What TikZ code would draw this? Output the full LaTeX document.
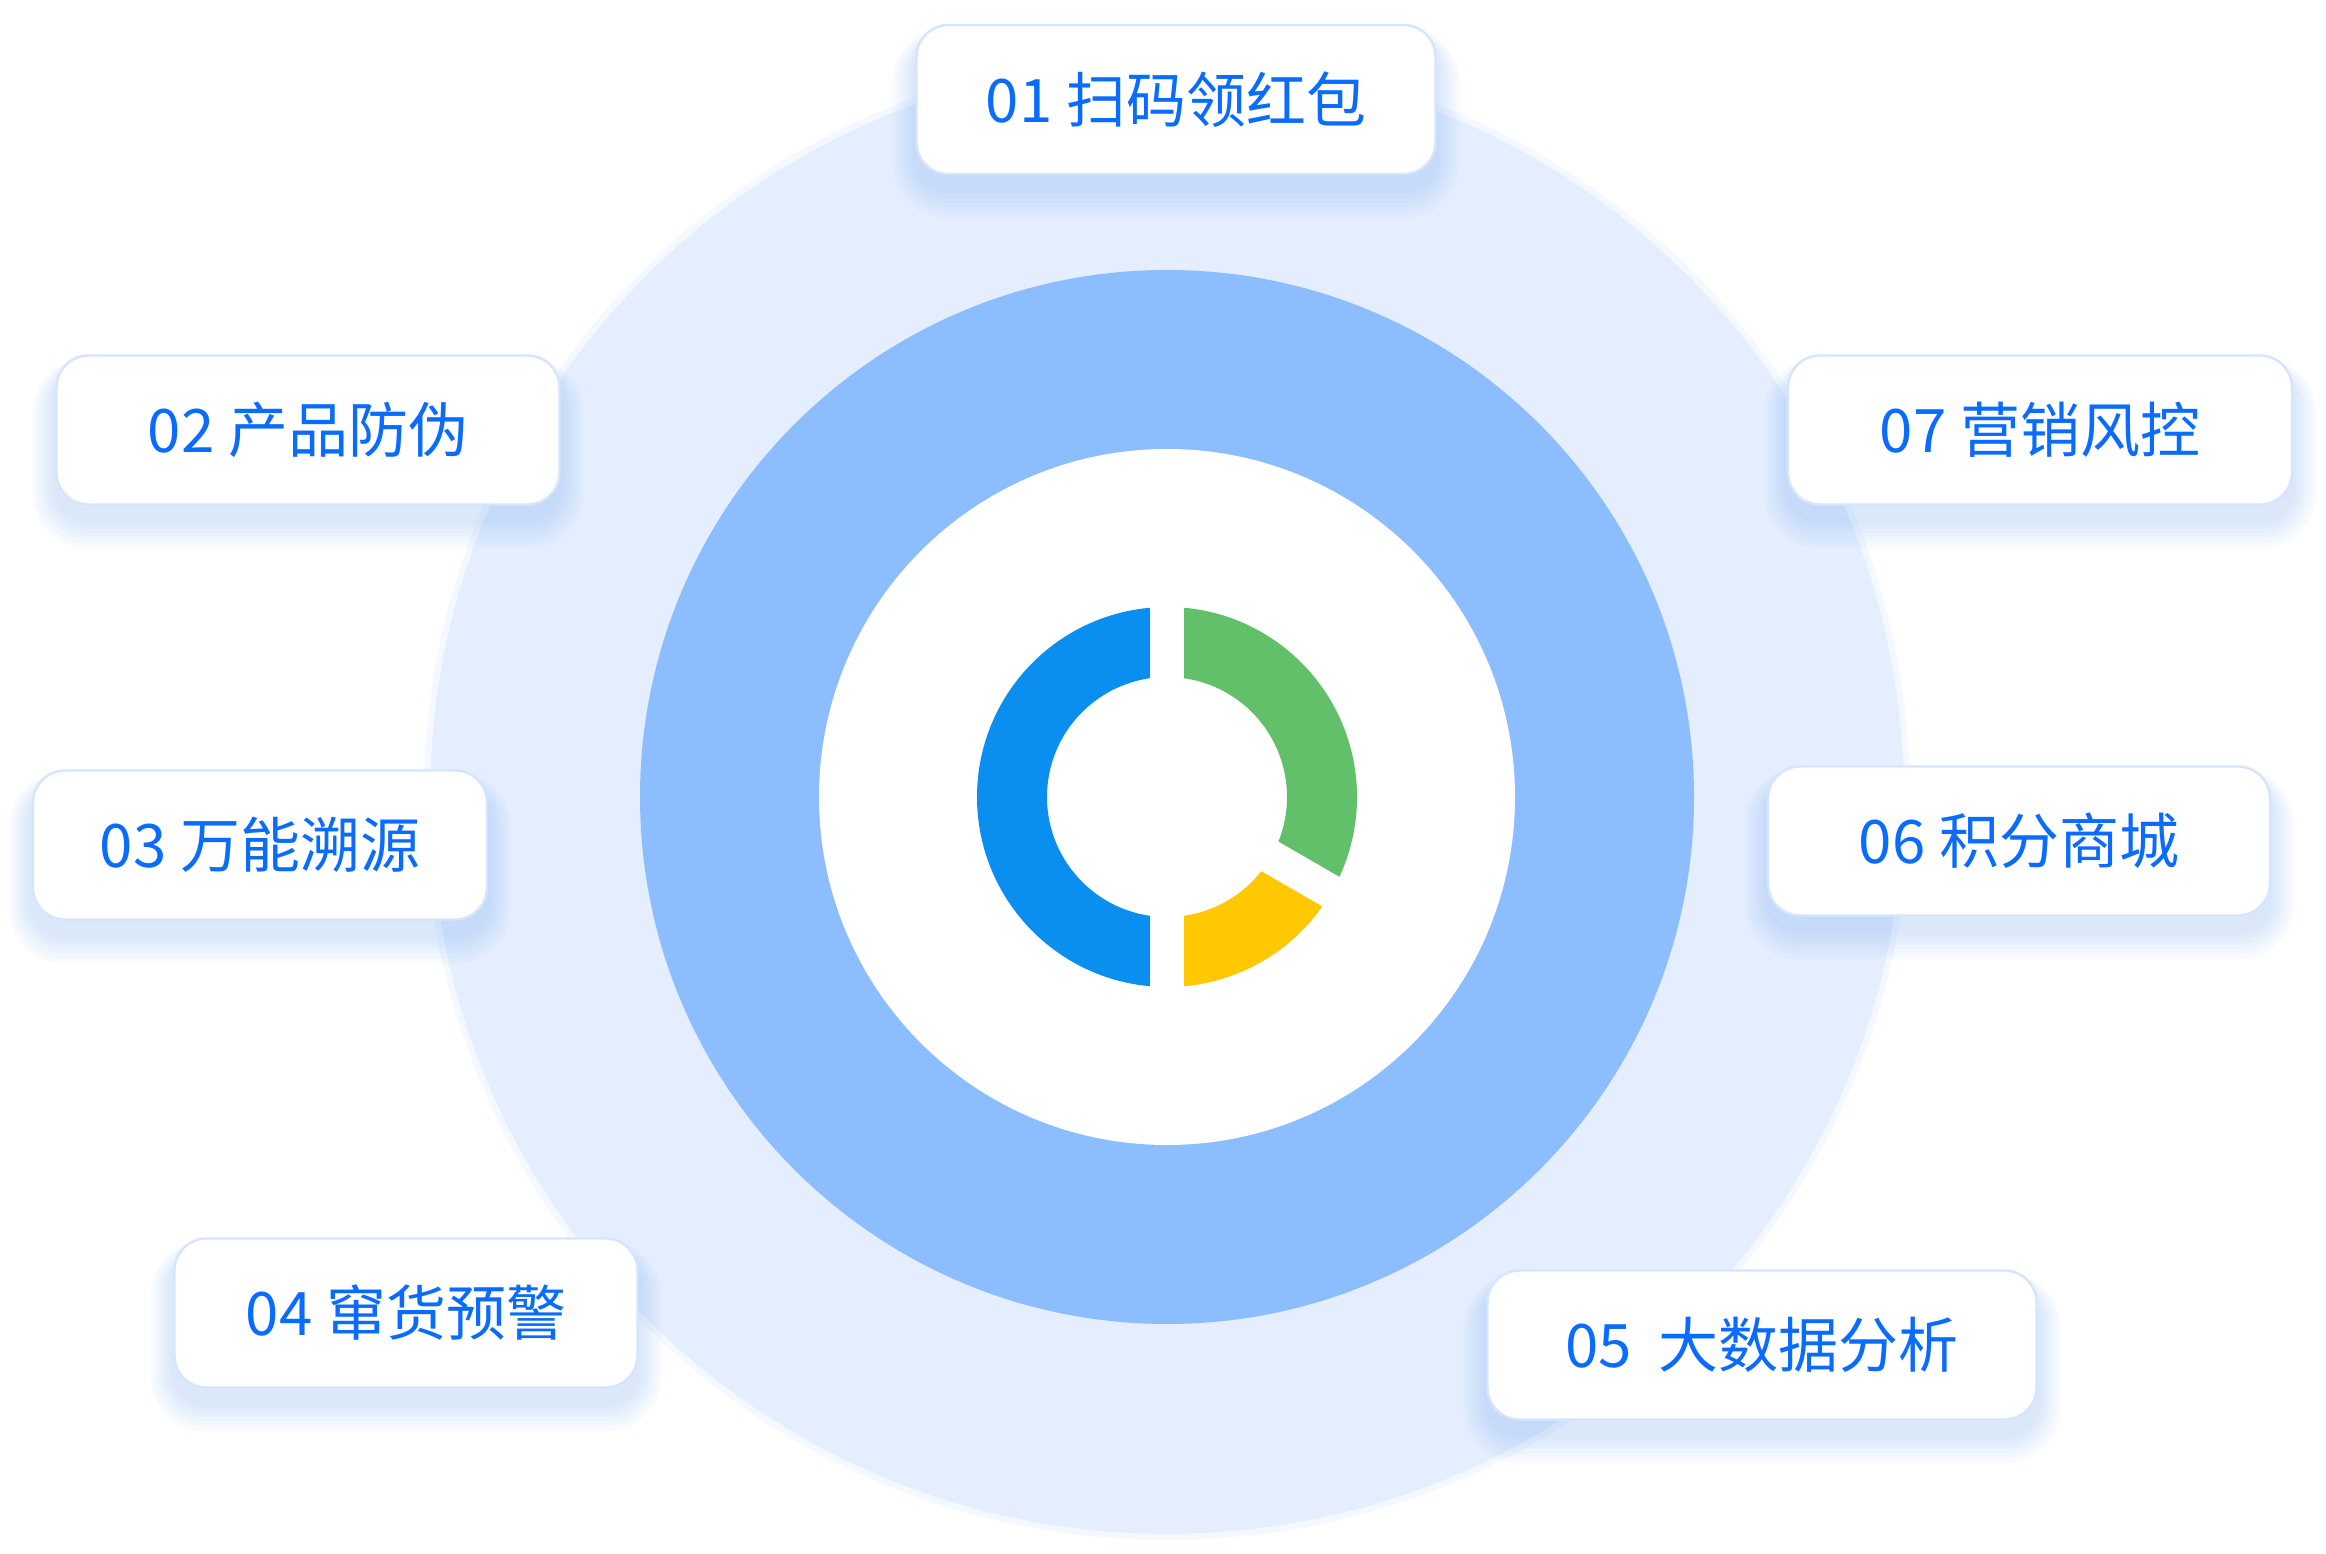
\documentclass[tikz,border=0pt]{standalone}
\usepackage{fontspec}
\setmainfont{Noto Sans CJK SC}
\usepackage{xcolor}
\usepackage{tikz}
\usetikzlibrary{calc,positioning}

\definecolor{outerblue}{HTML}{E4EEFE}
\definecolor{edgeblue}{HTML}{F4F8FF}
\definecolor{ringblue}{HTML}{8CBDFF}
\definecolor{segblue}{HTML}{0A8EF0}
\definecolor{seggreen}{HTML}{63C06A}
\definecolor{segyellow}{HTML}{FFC800}
\definecolor{labelblue}{HTML}{0A6CFF}
\definecolor{boxline}{HTML}{D6E5FD}
\definecolor{glowblue}{HTML}{7FB2FA}

\tikzset{
  labelbox/.style={draw=boxline, line width=1.2pt, fill=white, rounded corners=16pt,
    minimum height=74.5pt, text=labelblue, font=\fontsize{30}{36}\selectfont},
  glow/.style={fill=glowblue, fill opacity=0.05}
}

\begin{document}
\begin{tikzpicture}[x=0.5pt, y=0.5pt]
    \useasboundingbox (0,0) rectangle (2326,1554);
    \fill[white] (0,0) rectangle (2326,1554);
    \coordinate (ctr) at (1167,757);

    % Rings
    \fill[outerblue] (ctr) circle (737);
    \draw[edgeblue, line width=3pt] (ctr) circle (740);
    \fill[ringblue] (ctr) circle (527);
    \fill[white] (ctr) circle (348);

    % Donut
    \fill[segblue] ($(ctr)+(90:190)$) arc[start angle=90, end angle=270, radius=190]
        -- ($(ctr)+(270:120)$) arc[start angle=270, end angle=90, radius=120] -- cycle;
    \fill[seggreen] ($(ctr)+(90:190)$) arc[start angle=90, end angle=-30, radius=190]
        -- ($(ctr)+(-30:120)$) arc[start angle=-30, end angle=90, radius=120] -- cycle;
    \fill[segyellow] ($(ctr)+(-30:190)$) arc[start angle=-30, end angle=-90, radius=190]
        -- ($(ctr)+(-90:120)$) arc[start angle=-90, end angle=-30, radius=120] -- cycle;
    \draw[white, line width=17pt] ($(ctr)+(0,-200)$) -- ($(ctr)+(0,200)$); % gaps
    \draw[white, line width=17pt] (ctr) -- ($(ctr)+(-30:200)$);

    % Label boxes with glow
    \foreach \nm/\cx/\cy/\hw/\txt in {
        b1/1176/1454.5/259.5/{01 扫码领红包},
        b2/308/1124/251.5/{02 产品防伪},
        b3/260/709/227/{03 万能溯源},
        b4/406/241/231.5/{04 窜货预警},
        b5/1762/209/274.5/{05\ \ 大数据分析},
        b6/2019/713/251/{06 积分商城},
        b7/2040/1124/252/{07 营销风控}} {
      \foreach \k in {1,...,6}
        \fill[glow, rounded corners=16pt+\k*2pt]
          (\cx-\hw-\k*4, \cy-74.5-\k*5-14) rectangle (\cx+\hw+\k*4, \cy+74.5+\k*2-14);
      \node[labelbox, minimum width=\hw pt] (\nm) at (\cx,\cy) {\txt};
    }
\end{tikzpicture}
\end{document}
